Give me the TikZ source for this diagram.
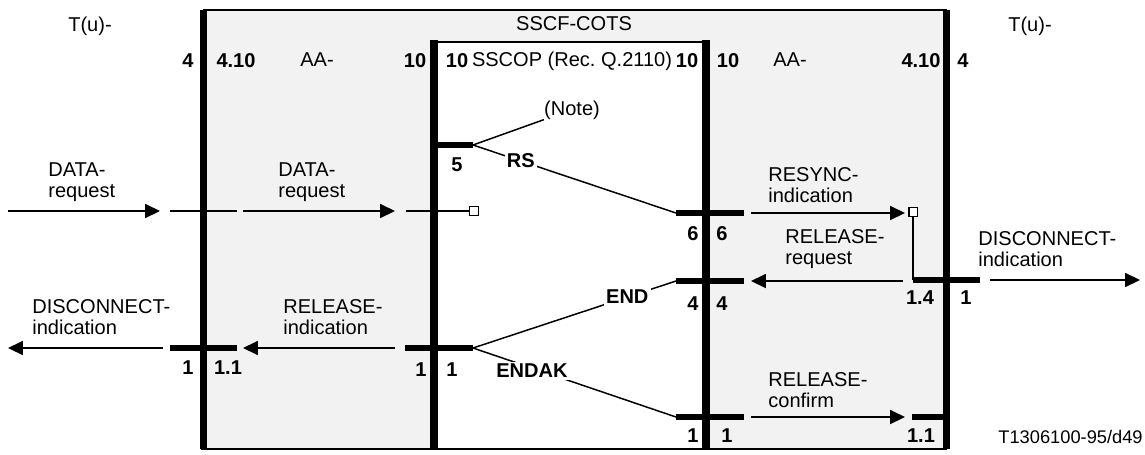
\documentclass[tikz,border=0pt]{standalone}
\usepackage{fontspec}
\setmainfont{Liberation Sans}
\usepackage{tikz}
\usetikzlibrary{arrows.meta, positioning}
\definecolor{LayerGray}{RGB}{242,242,242}
\frenchspacing

\tikzset{
  lbl/.style={font=\fontsize{11.4}{12}\selectfont, align=left, inner sep=0pt, anchor=west},
  txt/.style={font=\fontsize{11.4}{12}\selectfont, inner sep=0pt},
  num/.style={font=\fontsize{11.4}{12}\selectfont\bfseries, inner sep=0pt},
  onwire/.style={font=\fontsize{11.4}{12}\selectfont\bfseries, fill=white, inner sep=1.2pt},
  layer/.style={line width=4.1pt},
  bar/.style={line width=3.9pt},
  wire/.style={line width=0.85pt},
  sig/.style={wire, -{Triangle[length=8.5pt, width=8pt]}},
  tap/.style={draw, fill=white, line width=0.6pt, minimum size=4.6pt, inner sep=0pt},
}

\begin{document}
\begin{tikzpicture}[x=0.02cm, y=-0.02cm]
\useasboundingbox (0,0) rectangle (1145,454);
\fill[LayerGray] (203,10) rectangle (946,449);
\fill[white] (434,42) rectangle (706,449);
\draw[line width=1.2pt] (203,10) -- (947,10);
\draw[line width=1.2pt] (201,449) -- (947,449);
\draw[line width=1.2pt] (434,42) -- (706,42);
\draw[layer] (203.5,10) -- (203.5,449);
\draw[layer] (946.5,10) -- (946.5,449);
\draw[layer] (434,40) -- (434,449);
\draw[layer] (706,40) -- (706,449);

% layer texts
\node[txt] (tuL) at (90,26) {T(u)-};
\node[txt] (tuR) at (1030,26) {T(u)-};
\node[txt] (sscf) at (574,24) {SSCF-COTS};
\node[num] (n4a) at (188,61) {4};
\node[num] (n410a) at (236,61) {4.10};
\node[txt] (aaL) at (317,60) {AA-};
\node[num] (n10a) at (415,61) {10};
\node[num] (n10b) at (457,61) {10};
\node[txt] (sscop) at (572,61) {SSCOP (Rec. Q.2110)};
\node[num] (n10c) at (687,61) {10};
\node[num] (n10d) at (728,61) {10};
\node[txt] (aaR) at (790,60) {AA-};
\node[num] (n410b) at (921,61) {4.10};
\node[num] (n4b) at (963,61) {4};

% bars
\coordinate (b5w) at (434,145);   \coordinate (b5e) at (473,145);
\coordinate (b6w) at (676,213);   \coordinate (b6e) at (744,213);
\coordinate (b4w) at (676,281);   \coordinate (b4e) at (744,281);
\coordinate (b14w) at (913,280);  \coordinate (b14e) at (980,280);
\coordinate (bo1w) at (170,348);  \coordinate (bo1e) at (237,348);
\coordinate (bi1w) at (405,348);  \coordinate (bi1e) at (473,348);
\coordinate (bk1w) at (676,417);  \coordinate (bk1e) at (744,417);
\coordinate (b11w) at (912,417);  \coordinate (b11e) at (946,417);
\foreach \a/\b in {b5w/b5e, b6w/b6e, b4w/b4e, b14w/b14e, bo1w/bo1e, bi1w/bi1e, bk1w/bk1e, b11w/b11e}
  \draw[bar] (\a) -- (\b);

% SSCOP signals
\node[txt] (note) at (572,110) {(Note)};
\node[num] (n5) at (457,165) {5};
\draw[wire] (b5e) -- (note.south west);
\draw[wire] (b5e) -- node[onwire, pos=0.235] (rs) {RS} (b6w);
\draw[wire] (bi1e) -- node[onwire, pos=0.76] (end) {END} (b4w);
\draw[wire] (bi1e) -- node[onwire, pos=0.29, yshift=-1.5pt] (endak) {ENDAK} (bk1w);

% DATA-request
\coordinate (dr0) at (8,211);   \coordinate (dr1) at (160,211);
\coordinate (dr2) at (170,211); \coordinate (dr3) at (237,211);
\coordinate (dr4) at (243,211); \coordinate (dr5) at (395,211);
\coordinate (dr6) at (406,211);
\node[tap] (sq1) at (474,211) {};
\draw[sig] (dr0) -- (dr1);
\draw[wire] (dr2) -- (dr3);
\draw[sig] (dr4) -- (dr5);
\draw[wire] (dr6) -- (sq1.west);
\node[lbl] (drL) at (48,182) {DATA-\\request};
\node[lbl] (drM) at (278,182) {DATA-\\request};

% RESYNC / RELEASE-request / DISCONNECT
\coordinate (rs0) at (751,213); \coordinate (rs1) at (905,213);
\node[tap] (sq2) at (913,212) {};
\draw[sig] (rs0) -- (rs1);
\draw[wire] (sq2.south) -- (b14w);
\node[lbl] (resync) at (768,185) {RESYNC-\\indication};
\node[num] (n6a) at (693,234) {6};
\node[num] (n6b) at (722,234) {6};
\coordinate (rq0) at (903,281); \coordinate (rq1) at (751,281);
\draw[sig] (rq0) -- (rq1);
\node[lbl] (relreq) at (785,249) {RELEASE-\\request};
\coordinate (dc0) at (990,280); \coordinate (dc1) at (1140,280);
\draw[sig] (dc0) -- (dc1);
\node[lbl] (discR) at (978,249) {DISCONNECT-\\indication};
\node[num] (n4c) at (693,304) {4};
\node[num] (n4d) at (722,304) {4};
\node[num] (n14) at (920,298) {1.4};
\node[num] (n1e) at (966,298) {1};

% RELEASE-indication / DISCONNECT
\coordinate (di0) at (163,348); \coordinate (di1) at (8,348);
\draw[sig] (di0) -- (di1);
\node[lbl] (discL) at (32,317) {DISCONNECT-\\indication};
\coordinate (ri0) at (395,348); \coordinate (ri1) at (243,348);
\draw[sig] (ri0) -- (ri1);
\node[lbl] (relind) at (283,317) {RELEASE-\\indication};
\node[num] (n1a) at (188,368) {1};
\node[num] (n11a) at (228,368) {1.1};
\node[num] (n1b) at (421,370) {1};
\node[num] (n1c) at (452,370) {1};

% RELEASE-confirm
\coordinate (rc0) at (751,417); \coordinate (rc1) at (905,417);
\draw[sig] (rc0) -- (rc1);
\node[lbl] (relconf) at (768,390) {RELEASE-\\confirm};
\node[num] (n1f) at (693,436) {1};
\node[num] (n1g) at (727,436) {1};
\node[num] (n11b) at (921,436) {1.1};

\node[font=\fontsize{10.4}{12}\selectfont, inner sep=0pt, anchor=east] (ref) at (1143,437) {T1306100-95/d49};
\end{tikzpicture}
\end{document}
